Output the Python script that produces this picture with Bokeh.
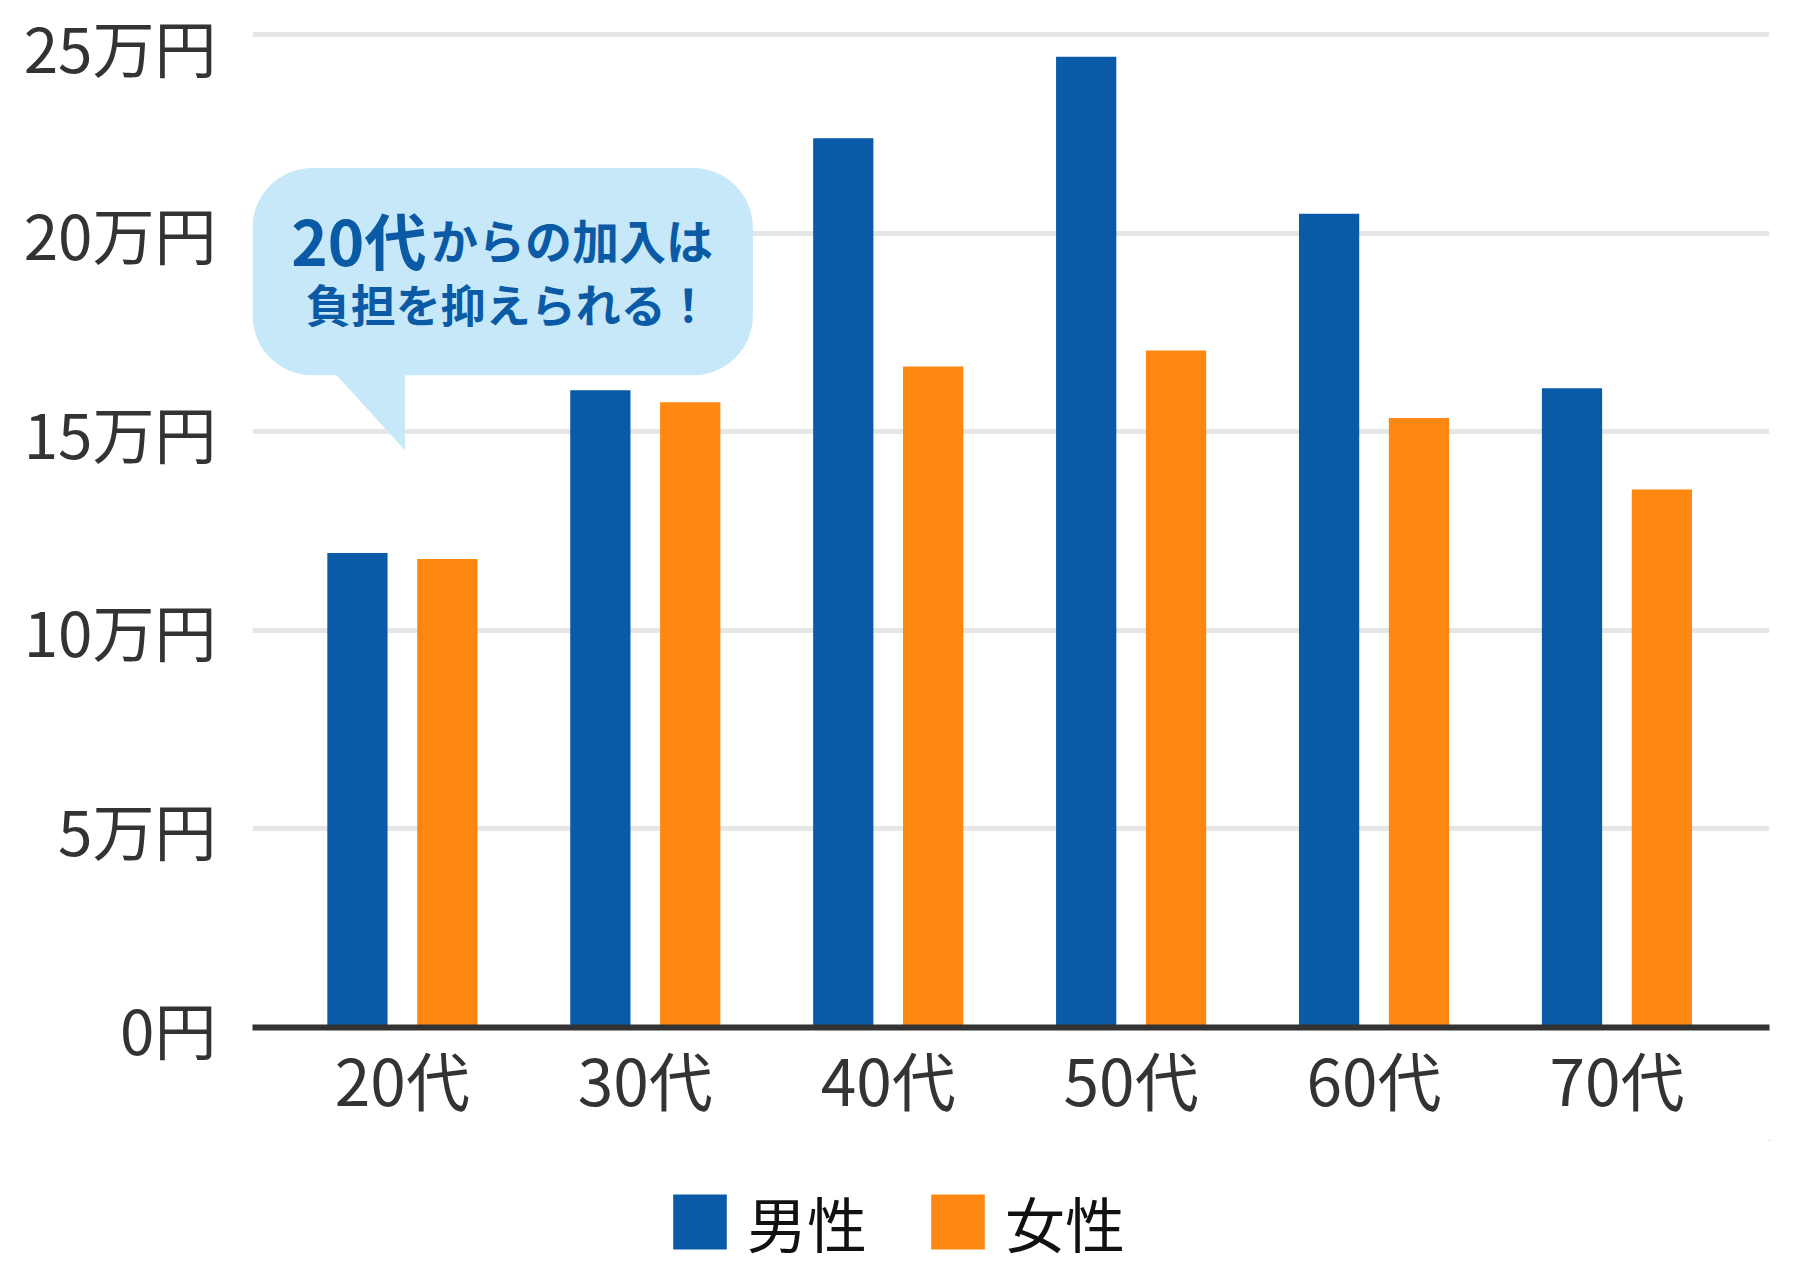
from bokeh.plotting import figure
from bokeh.models import (ColumnDataSource, FixedTicker, Legend, LegendItem,
                          BoxAnnotation, Range1d)
from bokeh.layouts import column
from bokeh.transform import dodge
from bokeh.core.properties import value
from bokeh.embed import file_html
from bokeh.resources import INLINE

# ---- data ----
ages = ["20代", "30代", "40代", "50代", "60代", "70代"]
male = [11.95, 16.05, 22.4, 24.45, 20.5, 16.1]
female = [11.8, 15.75, 16.65, 17.05, 15.35, 13.55]
y_ticks = [0, 5, 10, 15, 20, 25]
y_tick_labels = ["0円", "5万円", "10万円", "15万円", "20万円", "25万円"]
legend_labels = ["男性", "女性"]
callout_big = "20代"
callout_rest = "からの加入は"
callout_line2 = "負担を抑えられる！"

# ---- style ----
BLUE = "#095ba7"
ORANGE = "#fd8711"
BUBBLE = "#c6e8f9"
BUBBLE_TEXT = "#0b5aa5"
AXIS = "#333333"
GRID = "#e6e6e6"
FONT = "Noto Sans CJK JP"
BAR_W = 0.248
OFF = 0.185

idx = list(range(len(ages)))
src = ColumnDataSource(dict(x=idx, male=male, female=female))

p = figure(width=1784, height=1140, output_backend="svg", toolbar_location=None,
           x_range=Range1d(-0.617, 5.628), y_range=Range1d(0, 25.365),
           min_border_left=252, min_border_right=15, min_border_top=20,
           min_border_bottom=113)
p.outline_line_color = None
p.background_fill_color = "white"
p.border_fill_color = "white"

r_m = p.vbar(x=dodge("x", -OFF, range=p.x_range), top="male", width=BAR_W,
             source=src, fill_color=BLUE, line_color=None)
r_f = p.vbar(x=dodge("x", OFF, range=p.x_range), top="female", width=BAR_W,
             source=src, fill_color=ORANGE, line_color=None)

# axes
p.xaxis.ticker = FixedTicker(ticks=idx)
p.xaxis.major_label_overrides = {i: a for i, a in zip(idx, ages)}
p.xaxis.axis_line_color = AXIS
p.xaxis.axis_line_width = 6
p.xaxis.major_tick_line_color = None
p.xaxis.minor_tick_line_color = None
p.xaxis.major_label_text_font = FONT
p.xaxis.major_label_text_font_size = "64px"
p.xaxis.major_label_text_color = AXIS
p.xaxis.major_label_standoff = -2

p.yaxis.ticker = FixedTicker(ticks=y_ticks)
p.yaxis.major_label_overrides = {t: l for t, l in zip(y_ticks, y_tick_labels)}
p.yaxis.axis_line_color = None
p.yaxis.major_tick_line_color = None
p.yaxis.minor_tick_line_color = None
p.yaxis.major_label_text_font = FONT
p.yaxis.major_label_text_font_size = "62px"
p.yaxis.major_label_text_color = AXIS
p.yaxis.major_label_standoff = 30

p.xgrid.grid_line_color = None
p.ygrid.ticker = FixedTicker(ticks=y_ticks)
p.ygrid.grid_line_color = GRID
p.ygrid.grid_line_width = 5

# callout bubble
BX0, BX1, BY0, BY1 = -0.617, 1.443, 16.43, 21.65
bubble = BoxAnnotation(left=BX0, right=BX1, bottom=BY0, top=BY1,
                       fill_color=BUBBLE, fill_alpha=1.0, line_color=None,
                       border_radius=60)
p.add_layout(bubble)
p.patch(x=[-0.296, 0.011, 0.011], y=[16.6, 16.6, 14.54], fill_color=BUBBLE,
        line_color=None)

p.text(x=[0.099], y=[19.87], text=[callout_big], text_font=value(FONT),
       text_font_style="bold", text_font_size="62px", text_color=BUBBLE_TEXT,
       text_align="right", text_baseline="middle", level="overlay")
p.text(x=[0.118], y=[19.87], text=[callout_rest], text_font=value(FONT),
       text_font_style="bold", text_font_size="47px", text_color=BUBBLE_TEXT,
       text_align="left", text_baseline="middle", level="overlay")
p.text(x=[0.436], y=[18.24], text=[callout_line2], text_font=value(FONT),
       text_font_style="bold", text_font_size="45px", text_color=BUBBLE_TEXT,
       text_align="center", text_baseline="middle", level="overlay")

# legend strip below the chart (its ranges lie away from the data, so the
# series renderers here only supply the legend swatches)
p2 = figure(width=1784, height=126, output_backend="svg", toolbar_location=None,
            x_range=Range1d(-30, -29), y_range=Range1d(-30, -29),
            x_axis_type=None, y_axis_type=None,
            min_border_left=0, min_border_right=0, min_border_top=0,
            min_border_bottom=0)
p2.outline_line_color = None
p2.grid.visible = False
l_m = p2.vbar(x="x", top="male", width=BAR_W, source=src,
              fill_color=BLUE, line_color=None)
l_f = p2.vbar(x="x", top="female", width=BAR_W, source=src,
              fill_color=ORANGE, line_color=None)
legend = Legend(items=[LegendItem(label=legend_labels[0], renderers=[l_m]),
                       LegendItem(label=legend_labels[1], renderers=[l_f])],
                location=(414, 1), orientation="horizontal",
                glyph_width=67, glyph_height=69, label_standoff=14, spacing=57,
                padding=0, margin=0, border_line_color=None,
                background_fill_alpha=0, label_text_font=FONT,
                label_text_font_size="60px", label_text_color="#111111",
                label_height=55)
p2.add_layout(legend)

open("out.html", "w").write(file_html(column(p, p2, spacing=0), INLINE))
